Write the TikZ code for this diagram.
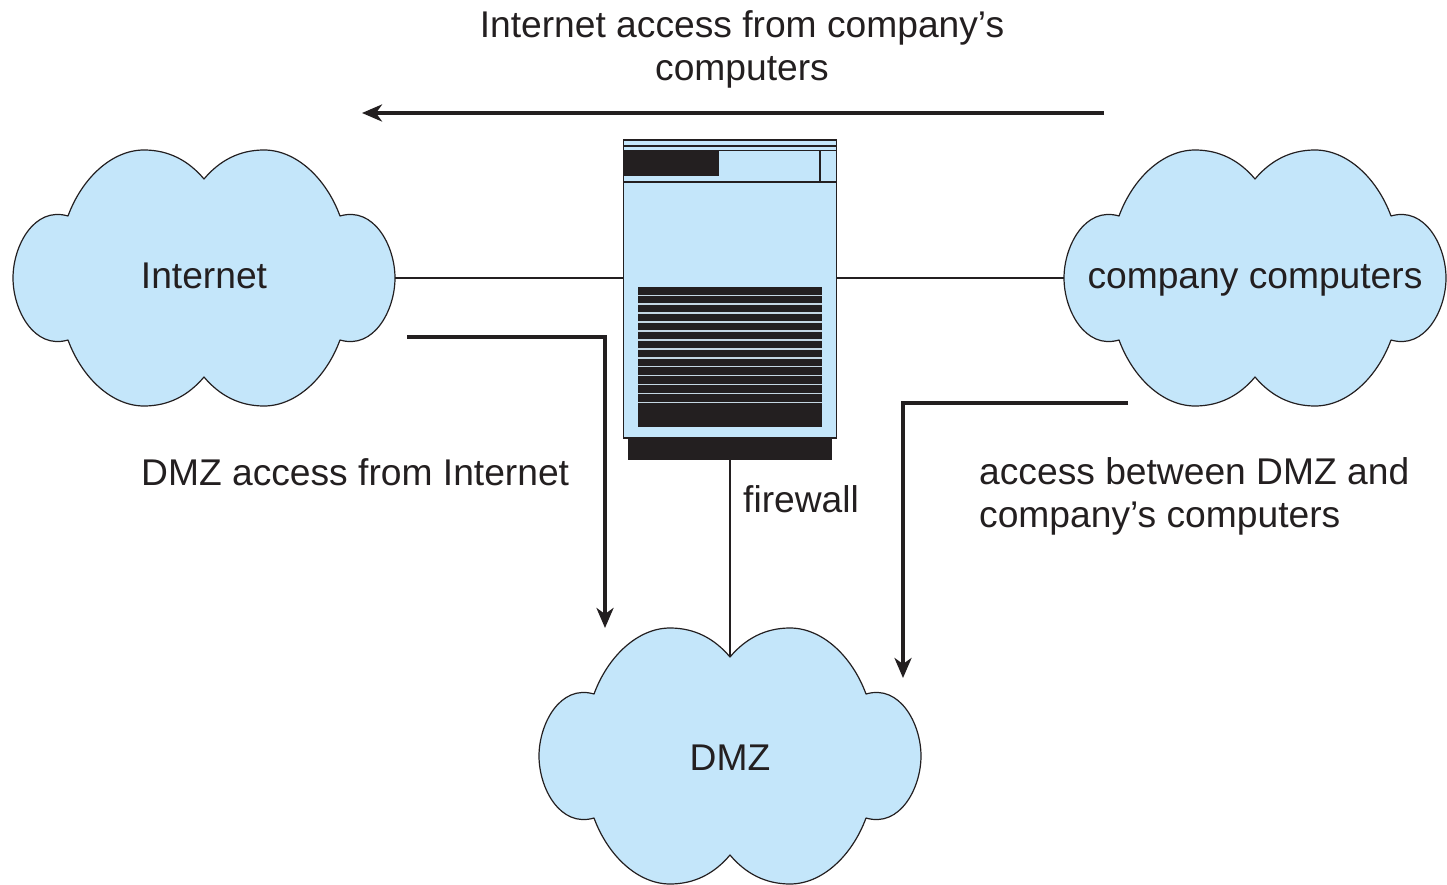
\documentclass[tikz,border=0pt]{standalone}
\usepackage{fontspec}
\setmainfont{Liberation Sans}
\usetikzlibrary{arrows.meta}
\definecolor{cloudblue}{HTML}{C4E6FA}
\definecolor{inkdark}{HTML}{231F20}
\definecolor{stripe}{HTML}{C4D6E2}
\newcommand{\cloudoutline}{%
  (0,-99) .. controls (16,-118) and (36,-128) .. (60,-128)
  .. controls (92,-128) and (122,-100) .. (136,-62)
  .. controls (170,-72) and (191,-32) .. (191,0)
  .. controls (191,32) and (170,72) .. (136,62)
  .. controls (122,100) and (92,128) .. (60,128)
  .. controls (36,128) and (16,118) .. (0,99)
  .. controls (-16,118) and (-36,128) .. (-60,128)
  .. controls (-92,128) and (-122,100) .. (-136,62)
  .. controls (-170,72) and (-191,32) .. (-191,0)
  .. controls (-191,-32) and (-170,-72) .. (-136,-62)
  .. controls (-122,-100) and (-92,-128) .. (-60,-128)
  .. controls (-36,-128) and (-16,-118) .. (0,-99) -- cycle}
\tikzset{
  cloudshape/.style={draw=inkdark,fill=cloudblue,line width=1.2pt,line join=round},
  cloudlabel/.style={minimum width=382pt,inner sep=0pt,text height=26.5pt,text depth=6pt,font=\fontsize{37.2}{44}\selectfont,text=inkdark},
  thinlink/.style={draw=inkdark,line width=1.1pt},
  flow/.style={draw=inkdark,line width=3.6pt,-{Stealth[length=20pt,width=17pt,inset=6pt]}},
  caption/.style={inner sep=0pt,font=\fontsize{37.2}{42.5}\selectfont,text=inkdark,align=left},
  fwbody/.style={draw=inkdark,fill=cloudblue,line width=1.3pt,minimum width=213pt,minimum height=298pt,inner sep=0pt},
  fwline/.style={draw=inkdark,line width=1.2pt},
  solidblock/.style={fill=inkdark,draw=none},
  grillgap/.style={draw=stripe,line width=1.5pt}
}
\begin{document}
\begin{tikzpicture}[x=1pt,y=-1pt]
\useasboundingbox (0,0) rectangle (1447,885);
% clouds
\draw[cloudshape,shift={(204,278)}] \cloudoutline;
\draw[cloudshape,shift={(1255,278)}] \cloudoutline;
\draw[cloudshape,shift={(730,756)}] \cloudoutline;
\node[cloudlabel] (internet) at (204,278) {Internet};
\node[cloudlabel] (company) at (1255,278) {company computers};
\node[cloudlabel] (dmz) at (730,760) {DMZ};
% firewall
\node[fwbody] (fw) at (730,289) {};
\node[solidblock,minimum width=204pt,minimum height=22pt,inner sep=0pt] (fwbase) at (730,449) {};
\fill[inkdark] (624,151) rectangle (719,176);
\draw[fwline] (623,146) -- (837,146);
\draw[fwline] (623,150.5) -- (837,150.5);
\draw[fwline] (623,182) -- (837,182);
\draw[fwline] (820,150.5) -- (820,182);
\fill[inkdark] (638,287) rectangle (822,427);
\foreach \k in {0,...,12}{
  \draw[grillgap] (638,295.3+8.93*\k) -- (822,295.3+8.93*\k);
}
% connectors
\draw[thinlink] (internet.east) -- (fw.west |- internet.east);
\draw[thinlink] (company.west) -- (fw.east |- company.west);
\draw[thinlink] (fwbase.south) -- (dmz.north |- 0,657);
% flows
\coordinate (a1) at (1104,113);
\coordinate (a2) at (362,113);
\coordinate (b1) at (407,337);
\coordinate (b2) at (605,337);
\coordinate (b3) at (605,628);
\coordinate (c1) at (1128,403);
\coordinate (c2) at (903,403);
\coordinate (c3) at (903,678);
\draw[flow] (a1) -- (a2);
\draw[flow] (b1) -- (b2) -- (b3);
\draw[flow] (c1) -- (c2) -- (c3);
% captions
\node[caption,align=center] (t1) at (742,49.5) {Internet access from company’s\\computers};
\node[caption,anchor=west] (t2) at (141,472) {DMZ access from Internet};
\node[caption,anchor=west] (t3) at (743,499) {firewall};
\node[caption,anchor=west] (t4) at (979,496.5) {access between DMZ and\\company’s computers};
\end{tikzpicture}
\end{document}
